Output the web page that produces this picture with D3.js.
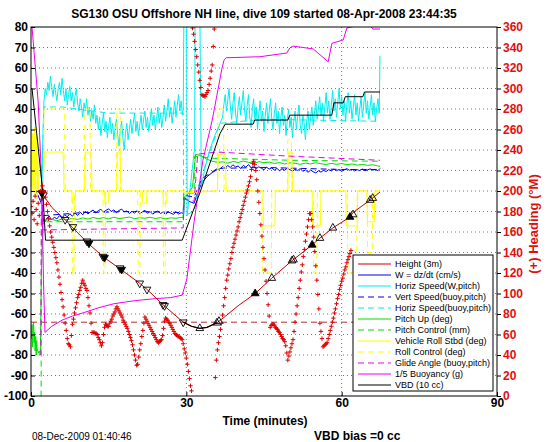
<!DOCTYPE html>
<html><head><meta charset="utf-8">
<script src="https://cdn.jsdelivr.net/npm/d3@7"></script>
<style>body{margin:0;background:#fff;} svg{display:block;font-family:Arial,"Liberation Sans",Helvetica,sans-serif;}</style>
</head><body><svg id="c" width="546" height="442"></svg>
<script>
// ---------- DATA ----------
const titleText = "SG130 OSU Offshore NH line, dive 109 started 08-Apr-2008 23:44:35";
const xTicks = [0, 30, 60, 90];
const yTicks = d3.range(-100, 81, 10);
const y2Ticks = d3.range(0, 361, 20);
const legendLabels = ["Height (3m)","W = dz/dt (cm/s)","Horiz Speed(W,pitch)","Vert Speed(buoy,pitch)","Horiz Speed(buoy,pitch)","Pitch Up (deg)","Pitch Control (mm)","Vehicle Roll Stbd (deg)","Roll Control (deg)","Glide Angle (buoy,pitch)","1/5 Buoyancy (g)","VBD (10 cc)"];

const heightT = [1.0,2.1,4.0,6.6,8.1,10.8,13.9,17.2,21.0,22.4,25.5,29.4,31.0,32.6,34.0,35.9,37.1,40.0,43.3,46.5,50.4,54.3,55.8,58.3,61.6,62.2,65.5,67.4];
const heightV = [0,-1,-8,-14,-18,-25,-32,-38,-45,-48,-55.5,-64,-66,-67,-66.5,-64.3,-62,-56,-50,-42.5,-34,-26.3,-23,-18,-12.7,-10.5,-4.4,-0.5];
const apogeeT = [29.4,31.0,32.6,34.0,35.9];
const apogeeV = [-64,-66,-67,-66.5,-64.3];
const triT = [2.1,2.4,6.6,8.1,10.8,11.2,13.9,14.2,17.2,17.5,21.0,22.4,25.5,25.8,29.4,32.6,35.9,36.3,43.3,46.5,50.4,50.7,54.3,55.8,58.3,61.6,62.2,65.5,66.0];
const triV = [-1,-2,-14,-17.5,-24.5,-25.5,-32,-32.5,-37.6,-38.3,-45,-48,-55.5,-56,-64,-67,-64.3,-63.5,-50,-42.5,-34,-33.5,-26.3,-23,-18,-12.7,-11.5,-4.4,-3.5];
const triUp =   [0,0,0,0,0,0,0,0,0,0,0,0,0,0,0,1,1,1,1,1,1,1,1,1,1,1,1,1,1];
const triFill = [1,0,0,0,0,1,0,1,0,1,0,0,0,0,0,0,0,0,1,0,0,0,1,0,0,1,0,0,0];

const wPre = [[1.0,0],[2.0,-6],[2.5,-16]];
const wDescent = [-13.5,-12.2,-14.1,-12.8,-13.6,-12.0,-13.2,-11.5,-12.6,-11.1,-12.3,-10.8,-11.9,-10.4,-11.6,-9.8,-11.2,-10.1,-9.3,-10.7,-9.6,-8.9,-10.3,-9.4,-8.7,-10.0,-9.2,-10.6,-9.5,-8.8,-10.2,-9.7,-11.0,-9.9,-10.8,-9.6,-11.1,-10.2,-9.4,-10.9,-10.0,-11.3,-10.4,-9.7,-11.0,-10.3,-11.5,-10.1,-10.8,-11.4,-10.2,-11.2,-10.6,-11.0]; // t=3.0 step 0.5
const wTrans = [[29.6,-3],[30.5,-5],[31.5,-6],[32.0,-2],[33.0,4],[34.0,7],[35.0,9],[36.0,10.5]];
const wAscent = [10.8,11.9,11.2,12.4,11.5,12.8,11.7,12.2,11.0,12.5,11.6,12.9,11.3,12.1,10.9,11.8,11.1,10.4,11.6,10.7,11.3,10.2,11.0,9.9,10.8,10.1,11.2,10.4,9.7,10.6,10.0,10.9,9.6,10.3,9.1,10.2,9.4,8.8,9.9,9.2,10.1,9.5,10.4,9.8,10.7,9.9,10.5,9.7,10.3,10.9,10.1,10.6,9.8,10.4,10.0,10.7,9.9,10.3,10.8,10.2,10.5,9.9]; // t=36.5 step 0.5
const wEnd = [[67.4,11]];

const hsPre = [[2.0,-14],[2.25,22]];
const hsDescent = [44,50,47,53,49,56,51,46,52,48,44,50,53,47,55,49,44,50,42,47,51,44,48,41,46,50,43,39,45,41,36,43,39,45,37,41,34,39,35,42,33,37,30,36,27,33,38,29,34,26,32,36,28,33,25,31,35,27,22,30,34,26,20,28,33,25,30,35,28,33,38,29,34,27,32,37,30,35,39,31,36,29,34,40,32,37,30,35,41,33,38,31,36,42,34,39,45,36,41,33,38,44,36,42,47,39,44,37]; // t=2.5 step 0.25
const hsTrans = [[29.4,40],[29.55,92],[30.05,92],[30.15,-12],[31.6,21],[31.7,92],[32.6,92],[32.9,2],[33.5,10],[34.5,20],[35.5,27],[36.5,33]];
const hsAscent = [36,42,47,39,44,50,41,35,43,48,38,33,41,46,37,43,49,39,34,42,47,36,31,40,45,35,41,30,38,44,34,39,29,37,43,33,39,45,35,30,38,43,33,39,28,36,41,32,37,27,35,40,31,36,26,34,39,30,36,42,32,28,37,33,25,34,39,30,36,41,32,38,44,35,40,46,37,43,34,41,48,38,44,35,42,49,39,45,36,43,50,40,46,37,44,34,42,48,38,44,35,41,47,37,43,34,40,46,36,42,48,38,44,35,41,47,37,43,34,40,45,38]; // t=37 step 0.25
const hsEnd = [[67.4,66]];

const vsBuoy = [[2.0,-2],[2.5,-12],[10,-10.5],[20,-10],[29.4,-10.5],[29.5,-2],[31.5,-3],[33,6],[36,11],[45,11.5],[60,10.5],[67.4,10.5]];
const hsBuoy = [[2.0,0],[2.5,41],[6,41],[15,38],[29.4,38],[29.5,-12],[31.5,-10],[32.6,5],[36.5,33],[45,35],[67.4,34]];

const pitchPre = [[0,-68],[0.1,-72],[0.2,-65],[0.3,-76],[0.4,-70],[0.5,-64],[0.6,-74],[0.7,-69],[0.8,-78],[0.9,-71],[1.0,-80],[1.1,-73],[1.2,-77],[1.4,-79],[1.6,-78],[1.8,-80],[2.0,-40],[2.3,-16],[2.6,-14.5]];
const pitchDescent = [-14.2,-13.8,-14.5,-13.6,-14.0,-13.3,-13.9,-13.1,-13.7,-12.9,-13.5,-13.0,-13.6,-12.8,-13.4,-13.1,-12.7,-13.5,-13.0,-13.3,-12.8,-13.4,-13.0,-13.6,-13.1,-13.3,-12.9]; // t=3 step 1
const pitchTrans = [[29.4,-13],[29.6,-3],[30.5,-1],[31.2,2],[31.8,18],[33,17],[34,15.5],[35,14.5],[36,14]];
const pitchAscent = [14.2,13.6,14.4,13.9,14.6,14.0,13.5,14.3,13.8,14.1,13.4,13.9,13.2,13.7,13.5,13.0,13.6,13.2,13.8,13.3,12.9,13.5,13.0,13.4,12.8,13.2,12.6,13.0,12.5,12.8,12.2]; // t=37 step 1
const pitchEnd = [[67.4,12]];

const pitchCtrl = [[0,-110],[1.95,-110],[2.0,-15],[29.4,-15],[29.5,-1],[31.5,-1],[31.6,17],[35,16],[50,15],[67.4,14.5]];

const roll = [[0,5],[0.1,30],[0.2,2],[0.3,28],[0.4,0],[0.5,25],[0.6,3],[0.7,31],[0.8,-2],[0.9,22],[1.0,8],[1.1,27],[1.2,-4],[1.3,15],[1.5,0],[2.3,0],[2.6,19],[6.2,19],[6.4,0],[7.9,0],[8.0,-6],[8.5,-6],[8.6,0],[10.3,0],[10.5,19],[11.6,19],[11.8,0],[14.2,0],[14.3,-6],[14.9,-6],[15.0,0],[16.5,0],[16.7,19],[17.2,19],[17.4,0],[21.5,0],[21.6,-6],[22.3,-6],[22.4,0],[25.5,0],[25.6,-6],[26.2,-6],[26.3,0],[29.4,0],[29.5,-1],[36.0,0],[36.2,18],[37.5,18],[37.7,0],[44.8,0],[44.9,-17],[47.1,-17],[47.2,0],[49.6,0],[49.7,19],[50.4,19],[50.5,0],[54.3,0],[54.4,-17],[55.9,-17],[56.0,0],[60.8,0],[60.9,-17],[63.0,-17],[63.1,0],[64.9,0],[65.0,-15],[66.3,-15],[66.4,0],[67.4,0]];
const rollCtrl = [[0,0],[2.4,0],[2.5,40],[6.5,40],[6.6,0],[7.9,0],[8.0,-40],[8.3,-40],[8.4,0],[10.3,0],[10.4,40],[11.4,40],[11.5,0],[13.9,0],[14.0,-40],[14.3,-40],[14.4,0],[16.5,0],[16.6,40],[17.2,40],[17.3,0],[20.6,0],[20.7,-40],[21.0,-40],[21.1,0],[25.5,0],[25.6,-40],[25.9,-40],[26.0,0],[29.4,0],[36.0,0],[36.1,40],[37.2,40],[37.3,0],[44.6,0],[44.7,-40],[46.4,-40],[46.5,0],[49.5,0],[49.6,25],[50.3,25],[50.4,0],[54.5,0],[54.6,-40],[55.2,-40],[55.3,0],[61.1,0],[61.2,-40],[62.9,-40],[63.0,0],[64.9,0],[65.0,-30],[65.9,-30],[66.0,0],[67.4,0]];

const glide = [[1.9,-80],[2.0,-10],[2.3,-19],[15,-18.5],[29.4,-18],[29.5,-4],[31.5,-5],[32.2,18],[36,19],[50,17],[67.4,15]];
const buoyancy = [[0,85],[0.2,80],[1.4,43],[2.1,2],[2.4,-43],[2.7,-69],[4,-66],[6,-63],[8,-61],[10,-59.5],[13,-57],[16,-55],[20,-53.5],[24,-52.5],[27,-52],[29.2,-50.8],[30.1,-43],[31.5,-15],[33.2,15],[35.0,34.6],[36.9,60],[37.3,64],[37.7,65],[44.2,65.5],[49.4,67.3],[50.0,69.8],[50.6,70.7],[54.5,69.3],[57.4,63],[58.1,72],[60.3,73.7],[61.0,79.5],[63.6,81],[65.5,81],[66,79],[67.4,79]];
const vbd = [[0,50],[0.2,50],[2.3,-1],[2.8,-24],[29.2,-24],[32.6,-1],[36.5,28],[37.5,32.6],[42.9,32.6],[43.2,34.6],[49.6,34.6],[50.0,37],[58.1,37],[58.5,43],[60.3,43],[60.7,46],[64.1,46],[64.4,48.3],[67.4,48.3]];
const targetLine = [[0,-64],[67.4,-64]];

// heading (deg M), every 0.2 min from t=0
const heading = [185,178,190,172,195,182,168,188,176,200,
192,205,200,199,194,187,180,173,166,160,
155,150,145,140,135,130,123,116,109,101,
94,87,79,71,64,56,51,50,48,59,
70,75,81,86,91,96,99,103,106,110,
113,110,108,105,103,96,88,81,71,62,
62,62,61,61,60,57,55,52,49,52,
60,67,70,69,68,68,71,73,75,78,
80,82,85,87,85,83,81,79,77,74,
72,70,68,66,63,60,57,54,50,45,
40,35,30,31,38,45,51,58,64,71,
77,75,73,71,69,67,65,63,61,59,
57,55,53,52,53,54,55,59,66,73,
76,75,74,72,71,69,67,65,63,61,
60,59,58,58,57,56,55,51,46,42,
37,31,24,17,10,5,359,353,346,338,
331,323,316,308,301,294,293,293,292,294,
296,298,304,310,317,323,341,358,18,35,
45,52,58,65,71,79,88,96,105,113,
118,124,129,134,140,145,149,153,157,161,
165,170,174,178,182,186,190,194,198,201,
205,209,214,221,227,229,226,220,211,200,
189,178,167,156,145,134,123,112,100,89,
78,67,69,70,70,69,67,66,65,63,
62,60,58,56,55,53,49,42,35,39,
43,47,51,55,63,72,80,88,96,105,
113,121,128,136,143,151,158,165,172,178,
178,172,165,155,141,127,113,99,85,71,
63,56,48,49,50,51,52,56,60,64,
68,72,76,81,85,90,95,99,104,108,
112,115,119,123,126,130,133,136,139,142];
const headingStep = 0.2;

// ---------- BUILD ----------
const seq = (t0, dt, vals) => vals.map((v, i) => [t0 + i * dt, v]);
const heightPts = heightT.map((t, i) => [t, heightV[i]]);
const apogeePts = apogeeT.map((t, i) => [t, apogeeV[i]]);
const wPts = [...wPre, ...seq(3.0, 0.5, wDescent), ...wTrans, ...seq(36.5, 0.5, wAscent), ...wEnd];
const hsPts = [...hsPre, ...seq(2.5, 0.25, hsDescent), ...hsTrans, ...seq(37, 0.25, hsAscent), ...hsEnd];
const pitchPts = [...pitchPre, ...seq(3, 1, pitchDescent), ...pitchTrans, ...seq(37, 1, pitchAscent), ...pitchEnd];
const headingPts = heading.map((h, i) => [i * headingStep, h]);

const L = 31, R = 497, T = 27, B = 396;
const x = d3.scaleLinear([0, 90], [L, R]);
const y = d3.scaleLinear([-100, 80], [B, T]);
const y2 = d3.scaleLinear([0, 360], [B, T]);

const svg = d3.select("#c");
svg.append("rect").attr("width", 546).attr("height", 442).attr("fill", "#fff");
svg.append("defs").append("clipPath").attr("id", "clip")
  .append("rect").attr("x", L).attr("y", T).attr("width", R - L).attr("height", B - T);

// grid
const grid = svg.append("g").attr("stroke", "#555").attr("stroke-width", 0.8).attr("stroke-dasharray", "1,3");
grid.selectAll("line.h").data(yTicks.filter(v => v > -100 && v < 80)).join("line")
  .attr("x1", L).attr("x2", R).attr("y1", d => y(d)).attr("y2", d => y(d));
grid.selectAll("line.v").data(xTicks.filter(v => v > 0 && v < 90)).join("line")
  .attr("y1", T).attr("y2", B).attr("x1", d => x(d)).attr("x2", d => x(d));

const line = d3.line().x(d => x(d[0])).y(d => y(d[1]));
const plot = svg.append("g").attr("clip-path", "url(#clip)").attr("fill", "none");

const COLORS = { red: "#e00000", blue: "#0000ee", cyan: "#00eeee", green: "#00dd00", yellow: "#ffff00", magenta: "#ee00ee", black: "#000" };
const DASH = "6,4";
const series = [
  { pts: wPts, c: COLORS.blue },
  { pts: hsPts, c: COLORS.cyan },
  { pts: vsBuoy, c: COLORS.blue, d: DASH },
  { pts: hsBuoy, c: COLORS.cyan, d: DASH },
  { pts: pitchPts, c: COLORS.green },
  { pts: pitchCtrl, c: COLORS.green, d: DASH },
  { pts: roll, c: COLORS.yellow },
  { pts: rollCtrl, c: COLORS.yellow, d: DASH },
  { pts: glide, c: COLORS.magenta, d: DASH },
  { pts: buoyancy, c: COLORS.magenta },
  { pts: vbd, c: COLORS.black },
];
series.forEach(s => {
  plot.append("path").attr("d", line(s.pts)).attr("stroke", s.c).attr("stroke-width", 1)
    .attr("stroke-dasharray", s.d || null);
});
// target line
plot.append("path").attr("d", line(targetLine)).attr("stroke", "#b03030").attr("stroke-width", 1).attr("stroke-dasharray", DASH);
// height
plot.append("path").attr("d", line(heightPts)).attr("stroke", "#cc0000").attr("stroke-width", 1);
plot.append("path").attr("d", line(apogeePts)).attr("stroke", "#000").attr("stroke-width", 1.2);
const tri = d3.symbol(d3.symbolTriangle, 26);
plot.selectAll("path.tri").data(triT.map((t, i) => ({ t, v: triV[i], up: triUp[i], f: triFill[i] }))).join("path")
  .attr("d", tri)
  .attr("transform", d => `translate(${x(d.t)},${y(d.v)}) rotate(${d.up ? 0 : 180})`)
  .attr("fill", d => d.f ? "#000" : "none").attr("stroke", "#000").attr("stroke-width", 0.9);

// heading markers
const hg = svg.append("g").attr("clip-path", "url(#clip)");
hg.selectAll("path").data(headingPts).join("path")
  .attr("d", "M-2.2,0H2.2M0,-2.2V2.2")
  .attr("transform", d => `translate(${x(d[0])},${y2(d[1])})`)
  .attr("stroke", "#dd0000").attr("stroke-width", 1);

// axes
const fmt = d => d < 0 ? "-" + Math.abs(d) : String(d);
const axL = svg.append("g").attr("transform", `translate(${L},0)`)
  .call(d3.axisLeft(y).tickValues(yTicks).tickSize(-4).tickPadding(3).tickFormat(fmt));
const axB = svg.append("g").attr("transform", `translate(0,${B})`)
  .call(d3.axisBottom(x).tickValues(xTicks).tickSize(-4).tickPadding(2));
const axR = svg.append("g").attr("transform", `translate(${R},0)`)
  .call(d3.axisRight(y2).tickValues(y2Ticks).tickSize(4).tickPadding(2));
[axL, axB, axR].forEach(a => {
  a.select(".domain").remove();
  a.selectAll("text").attr("font-size", 12).attr("font-weight", "bold").attr("font-family", "Arial, 'Liberation Sans', sans-serif").attr("fill", "#000");
  a.selectAll("line").attr("stroke", "#000");
});
axR.selectAll("text").attr("fill", "#e01010");
svg.append("rect").attr("x", L).attr("y", T).attr("width", R - L).attr("height", B - T)
  .attr("fill", "none").attr("stroke", "#000").attr("stroke-width", 1);

// legend
const lg = svg.append("g");
lg.append("rect").attr("x", 353).attr("y", 255).attr("width", 140).attr("height", 136)
  .attr("fill", "#fff").attr("stroke", "#000").attr("stroke-width", 1);
const legStyles = [
  { c: "#cc0000" }, { c: COLORS.blue }, { c: COLORS.cyan }, { c: COLORS.blue, d: DASH }, { c: COLORS.cyan, d: DASH },
  { c: COLORS.green }, { c: COLORS.green, d: DASH }, { c: COLORS.yellow }, { c: COLORS.yellow, d: DASH },
  { c: COLORS.magenta, d: DASH }, { c: COLORS.magenta }, { c: "#000" }
];
legendLabels.forEach((lab, i) => {
  const yy = 264 + i * 11;
  lg.append("line").attr("x1", 358).attr("x2", 391).attr("y1", yy).attr("y2", yy)
    .attr("stroke", legStyles[i].c).attr("stroke-width", 1.2).attr("stroke-dasharray", legStyles[i].d || null);
  lg.append("text").attr("x", 395).attr("y", yy + 3).attr("font-size", 9).attr("fill", "#000").text(lab);
});

// texts
svg.append("text").attr("x", 264).attr("y", 18).attr("text-anchor", "middle")
  .attr("font-size", 12).attr("font-weight", "bold").text(titleText);
svg.append("text").attr("x", 265).attr("y", 425).attr("text-anchor", "middle")
  .attr("font-size", 12).attr("font-weight", "bold").text("Time (minutes)");
svg.append("text").attr("x", 32).attr("y", 440).attr("font-size", 10).text("08-Dec-2009 01:40:46");
svg.append("text").attr("x", 314).attr("y", 440).attr("font-size", 12).attr("font-weight", "bold").text("VBD bias =0 cc");
svg.append("text").attr("transform", "translate(538,224) rotate(-90)").attr("text-anchor", "middle")
  .attr("font-size", 13).attr("font-weight", "bold").attr("fill", "#e01010").text("(+) Heading (°M)");
</script></body></html>
